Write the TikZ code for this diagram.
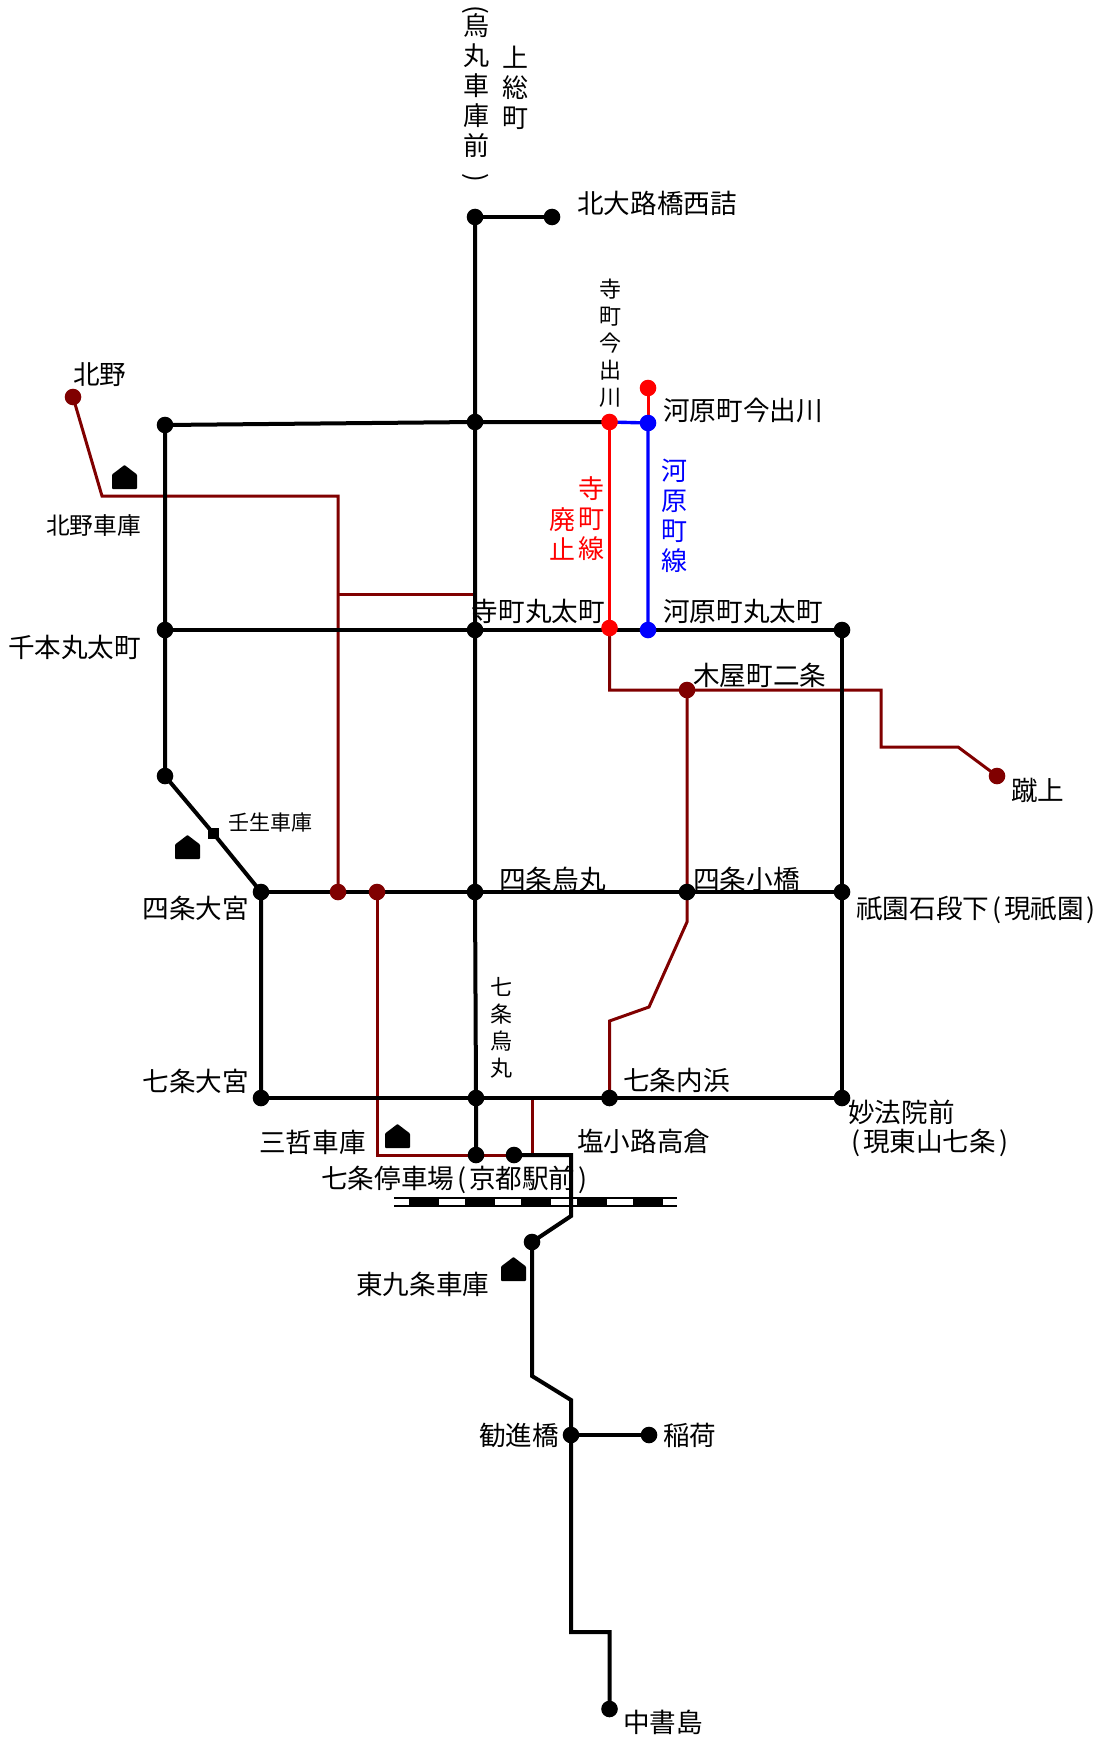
\documentclass[tikz,border=0pt]{standalone}
\usepackage{fontspec}
\setmainfont{Noto Sans CJK JP}
\usetikzlibrary{backgrounds}
\definecolor{tram}{HTML}{800000}
\tikzset{
  dot/.style={circle,fill=black,inner sep=0pt,minimum size=16.6pt},
  browndot/.style={dot,fill=tram},
  reddot/.style={dot,fill=red},
  bluedot/.style={dot,fill=blue},
  squaredot/.style={rectangle,fill=black,inner sep=0pt,minimum size=11pt},
  lab/.style={inner sep=0pt,text height=20.9pt,text depth=0pt,font=\fontsize{26.6}{30}\selectfont},
  midlab/.style={inner sep=0pt,text height=18.8pt,text depth=0pt,font=\fontsize{23.7}{28}\selectfont},
  smalllab/.style={inner sep=0pt,text height=16.6pt,text depth=0pt,font=\fontsize{21}{25}\selectfont},
  vert/.style={inner sep=0pt,align=center,font=\fontsize{26}{30}\selectfont},
  vertsmall/.style={inner sep=0pt,align=center,font=\fontsize{22}{27}\selectfont},
  turned/.style={inner sep=0pt,rotate=-90,font=\fontsize{26}{30}\selectfont},
  blackline/.style={line width=4pt,black,line join=miter},
  brownline/.style={line width=3pt,tram,line join=miter},
  redline/.style={line width=3pt,red},
  blueline/.style={line width=3.4pt,blue},
  railline/.style={line width=1.8pt,black},
  raildash/.style={fill=black},
  depot/.pic={\fill[rounded corners=.8pt] (0,0) -- (0,-14.5) -- (12.5,-24) -- (25,-14.5) -- (25,0) -- cycle;}
}
\newcommand{\opn}{\kern3pt(\kern3pt\relax}
\newcommand{\cls}{\kern3pt)}
\begin{document}
\begin{tikzpicture}[x=1pt,y=-1pt]
\useasboundingbox (0,0) rectangle (1099,1739);
% stations
\node[dot] (kitaoji) at (475,217) {};
\node[dot] (kitaojiE) at (552,217) {};
\node[dot] (imadeL) at (165,425) {};
\node[dot] (imadeM) at (475,422) {};
\node[reddot] (teraI) at (609.5,422) {};
\node[bluedot] (kawaI) at (648,423) {};
\node[reddot] (kawaT) at (648,388) {};
\node[dot] (senbon) at (165,630) {};
\node[dot] (karaM) at (475,630) {};
\node[reddot] (teraM) at (609.5,628) {};
\node[bluedot] (kawaM) at (648,630) {};
\node[dot] (higaM) at (842,630) {};
\node[browndot] (kitano) at (73,397) {};
\node[browndot] (kiya) at (687,690) {};
\node[browndot] (keage) at (997,776) {};
\node[dot] (senS) at (165,776) {};
\node[squaredot] (mibu) at (213,833) {};
\node[dot] (shiO) at (261,892) {};
\node[browndot] (shiA) at (338,892) {};
\node[browndot] (shiB) at (377,892) {};
\node[dot] (shiK) at (475,892) {};
\node[dot] (shiC) at (687,892) {};
\node[dot] (gion) at (842,892) {};
\node[dot] (shiO7) at (261,1098) {};
\node[dot] (shiK7) at (476,1098) {};
\node[dot] (uchi) at (609.5,1098) {};
\node[dot] (myoho) at (842,1098) {};
\node[dot] (shichijo) at (476,1155) {};
\node[dot] (shioko) at (514,1155) {};
\node[dot] (higaku) at (532,1242) {};
\node[dot] (kanshin) at (571,1435) {};
\node[dot] (inari) at (649,1435) {};
\node[dot] (chusho) at (609.5,1709) {};
% way points
\coordinate (kc1) at (102,496);
\coordinate (kc2) at (338,496);
\coordinate (kc3) at (338,594);
\coordinate (kc4) at (475,594);
\coordinate (tc1) at (609.5,690);
\coordinate (tc2) at (881,690);
\coordinate (tc3) at (881,747);
\coordinate (tc4) at (958,747);
\coordinate (sc1) at (687,922);
\coordinate (sc2) at (649,1007);
\coordinate (sc3) at (609.5,1021);
\coordinate (bc1) at (377,1155);
\coordinate (bc2) at (532,1155);
\coordinate (bc3) at (532,1098);
\coordinate (sl1) at (571,1155);
\coordinate (sl2) at (571,1216);
\coordinate (sl3) at (532,1376);
\coordinate (sl4) at (571,1400);
\coordinate (sl5) at (571,1632);
\coordinate (sl6) at (609.5,1632);
\coordinate (rL) at (394,1198);
\coordinate (rR) at (677,1198);
\coordinate (rL2) at (394,1206);
\coordinate (rR2) at (677,1206);
% connectors under the stations
\begin{scope}[on background layer]
\fill[white] (0,0) rectangle (1099,1739);
\draw[brownline] (kitano.center) -- (kc1) -- (kc2) -- (shiA.center);
\draw[brownline] (kc3) -- (kc4);
\draw[brownline] (teraM.center) -- (tc1) -- (tc2) -- (tc3) -- (tc4) -- (keage.center);
\draw[brownline] (kiya.center) -- (shiC.center) -- (sc1) -- (sc2) -- (sc3) -- (uchi.center);
\draw[brownline] (shiB.center) -- (bc1) -- (bc2) -- (bc3);
\draw[redline] (teraI.center) -- (teraM.center);
\draw[redline] (kawaT.center) -- (kawaI.center);
\draw[blueline] (teraI.center) -- (kawaI.center) -- (kawaM.center);
\draw[blackline] (kitaoji.center) -- (kitaojiE.center);
\draw[blackline] (kitaoji.center) -- (imadeM.center) -- (karaM.center) -- (shiK.center) -- (shiK7.center) -- (shichijo.center);
\draw[blackline] (imadeL.center) -- (imadeM.center) -- (teraI.center);
\draw[blackline] (imadeL.center) -- (senbon.center) -- (senS.center) -- (mibu.center) -- (shiO.center) -- (shiO7.center);
\draw[blackline] (senbon.center) -- (karaM.center) -- (higaM.center) -- (gion.center) -- (myoho.center);
\draw[blackline] (shiO.center) -- (gion.center);
\draw[blackline] (shiO7.center) -- (myoho.center);
\draw[railline] (rL) -- (rR);
\draw[railline] (rL2) -- (rR2);
\foreach \x in {409,465,521,577,633} \fill[raildash] (\x,1197) rectangle (\x+30,1207);
\draw[blackline] (shioko.center) -- (sl1) -- (sl2) -- (higaku.center) -- (sl3) -- (sl4) -- (sl5) -- (sl6) -- (chusho.center);
\draw[blackline] (kanshin.center) -- (inari.center);
\end{scope}
% depots
\pic at (112,489) {depot};
\pic at (175,859) {depot};
\pic at (385,1148) {depot};
\pic at (501,1281) {depot};
% labels
\node[turned] (lbKaraO) at (476,10) {(};
\node[vert] (lbKara) at (476,86) {烏\\丸\\車\\庫\\前};
\node[turned] (lbKaraC) at (476,178) {)};
\node[vert] (lbKazusa) at (515,88) {上\\総\\町};
\node[lab] (lbKitaoji) at (657,203) {北大路橋西詰};
\node[vertsmall] (lbTeraI) at (610,343) {寺\\町\\今\\出\\川};
\node[lab,anchor=west] (lbKawaI) at (663,410) {河原町今出川};
\node[vert,red] (lbTera1) at (591,519) {寺\\町\\線};
\node[vert,red] (lbTera2) at (562,534) {廃\\止};
\node[vert,blue] (lbKawa) at (674,516) {河\\原\\町\\線};
\node[lab,anchor=east] (lbTeraM) at (605,611) {寺町丸太町};
\node[lab,anchor=west] (lbKawaM) at (663,611) {河原町丸太町};
\node[lab,anchor=west] (lbSenbon) at (8,647) {千本丸太町};
\node[lab,anchor=west] (lbKitano) at (73,374) {北野};
\node[midlab,anchor=west] (lbKitanoD) at (46,525) {北野車庫};
\node[lab,anchor=west] (lbKiya) at (693,675) {木屋町二条};
\node[lab,anchor=west] (lbKeage) at (1011,790) {蹴上};
\node[smalllab,anchor=west] (lbMibu) at (228,822) {壬生車庫};
\node[lab,anchor=east] (lbShiO) at (249,908) {四条大宮};
\node[lab,anchor=west] (lbShiK) at (499,879) {四条烏丸};
\node[lab,anchor=west] (lbShiC) at (693,879) {四条小橋};
\node[lab,anchor=west] (lbGion) at (856,908) {祇園石段下\opn 現祇園\cls};
\node[vertsmall] (lbShiK7) at (501,1028) {七\\条\\烏\\丸};
\node[lab,anchor=east] (lbShiO7) at (249,1081) {七条大宮};
\node[lab,anchor=west] (lbUchi) at (623,1080) {七条内浜};
\node[lab,anchor=west] (lbMyoho) at (848,1112) {妙法院前};
\node[lab,anchor=west] (lbMyoho2) at (848,1141) {\opn 現東山七条\cls};
\node[lab,anchor=west] (lbShioko) at (577,1141) {塩小路高倉};
\node[lab,anchor=west] (lbSantetsu) at (259,1142) {三哲車庫};
\node[lab,anchor=west] (lbShichi) at (321,1178) {七条停車場\opn 京都駅前\cls};
\node[lab,anchor=west] (lbHigaku) at (356,1284) {東九条車庫};
\node[lab,anchor=west] (lbKanshin) at (479,1435) {勧進橋};
\node[lab,anchor=west] (lbInari) at (663,1435) {稲荷};
\node[lab,anchor=west] (lbChusho) at (623,1722) {中書島};
\end{tikzpicture}
\end{document}
